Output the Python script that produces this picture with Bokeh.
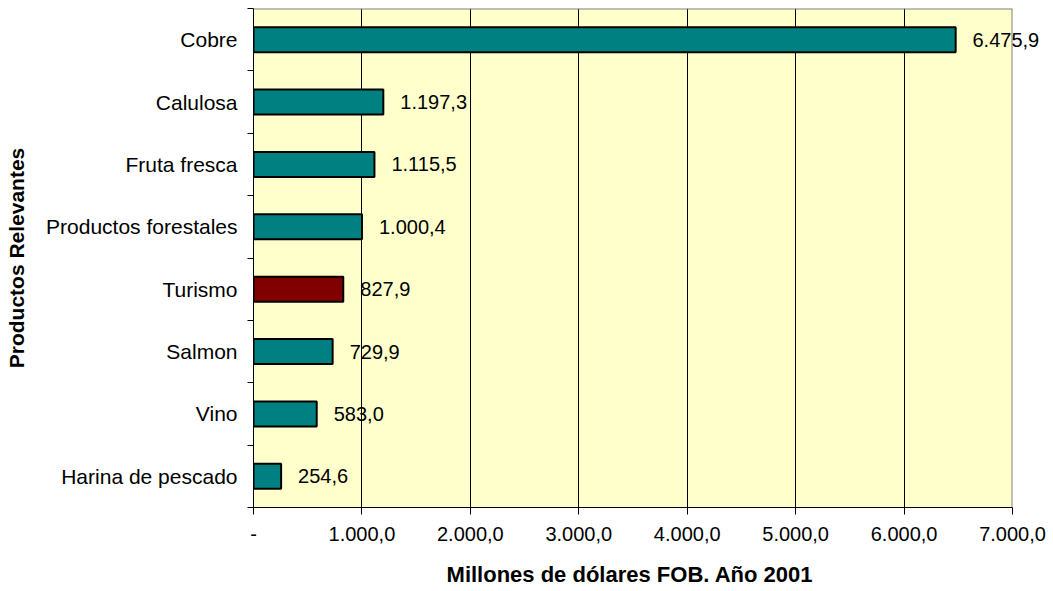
from bokeh.plotting import figure
from bokeh.models import ColumnDataSource, FixedTicker, Range1d, LabelSet, LinearAxis
from bokeh.core.properties import value
from bokeh.embed import file_html
from bokeh.resources import INLINE

# ---- data ----
categories = ["Cobre", "Calulosa", "Fruta fresca", "Productos forestales",
              "Turismo", "Salmon", "Vino", "Harina de pescado"]
values = [6475.9, 1197.3, 1115.5, 1000.4, 827.9, 729.9, 583.0, 254.6]
highlight = "Turismo"
x_ticks = [0, 1000, 2000, 3000, 4000, 5000, 6000, 7000]
x_title = "Millones de dólares  FOB. Año 2001"
y_title = "Productos Relevantes"

FONT = "Liberation Sans"
TEAL = "#008080"
DARKRED = "#800000"
PLOT_BG = "#FFFFCC"
BORDER = "#808080"


def es(v, d=1):
    s = f"{v:,.{d}f}"
    return s.replace(",", "X").replace(".", ",").replace("X", ".")


n = len(categories)
ypos = [n - i - 0.5 for i in range(n)]
colors = [DARKRED if c == highlight else TEAL for c in categories]
labels = [es(v) for v in values]
x_max = x_ticks[-1]

# layout (pixels)
W, H = 1053, 591
LEFT, TOP, RIGHT, BOTTOM = 253, 8, 41, 84
AREA_W = W - LEFT - RIGHT
LABEL_GAP = 17
LABEL_W = 68   # approx. width of a value label at 20px

# labels that stay inside the plot area are drawn as a LabelSet (clipped to the frame);
# labels that run past the right edge are drawn by a right-hand axis (not clipped)
inside = [i for i, v in enumerate(values) if v * AREA_W / x_max + LABEL_GAP + LABEL_W < AREA_W]
outside = [i for i in range(n) if i not in inside]

src = ColumnDataSource(dict(y=ypos, value=values, color=colors, label=labels, cat=categories))
src_in = ColumnDataSource(dict(y=[ypos[i] for i in inside],
                               value=[values[i] for i in inside],
                               label=[labels[i] for i in inside]))

p = figure(width=W, height=H,
           x_range=Range1d(x_ticks[0], x_max), y_range=Range1d(0, n),
           output_backend="svg", toolbar_location=None,
           min_border_left=LEFT, min_border_right=RIGHT,
           min_border_top=TOP, min_border_bottom=BOTTOM)

p.background_fill_color = PLOT_BG
p.border_fill_color = "white"
p.outline_line_color = None

# grey border on top and right of the plot area
p.line(x=[x_ticks[0], x_max], y=[n, n], line_color=BORDER, line_width=2)
p.line(x=[x_max, x_max], y=[0, n], line_color=BORDER, line_width=2)

p.hbar(y="y", left=0, right="value", height=0.4, fill_color="color",
       line_color="black", line_width=2, source=src)

p.add_layout(LabelSet(x="value", y="y", text="label", source=src_in, x_offset=LABEL_GAP,
                      text_baseline="middle", text_align="left",
                      text_font=value(FONT), text_font_size="20px", text_color="black"))

for i in outside:
    ra = LinearAxis(ticker=FixedTicker(ticks=[ypos[i]], minor_ticks=[]))
    ra.major_label_overrides = {ypos[i]: labels[i]}
    ra.major_label_standoff = int(round(values[i] * AREA_W / x_max + LABEL_GAP - AREA_W))
    ra.major_tick_out = 0
    ra.major_tick_in = 0
    ra.minor_tick_out = 0
    ra.minor_tick_in = 0
    ra.axis_line_color = None
    ra.major_tick_line_color = None
    ra.major_label_text_font = FONT
    ra.major_label_text_font_size = "20px"
    ra.major_label_text_color = "black"
    p.add_layout(ra, "right")

# x axis
xa = p.xaxis[0]
xa.ticker = FixedTicker(ticks=x_ticks, minor_ticks=[])
xa.major_label_overrides = {t: ("-" if t == 0 else es(t)) for t in x_ticks}
xa.major_tick_out = 7
xa.major_tick_in = 0
xa.minor_tick_out = 0
xa.minor_tick_in = 0
xa.major_label_standoff = 12
xa.major_label_text_font = FONT
xa.major_label_text_font_size = "20px"
xa.major_label_text_color = "black"
xa.axis_line_color = "black"
xa.major_tick_line_color = "black"
xa.axis_label = x_title
xa.axis_label_text_font = FONT
xa.axis_label_text_font_style = "bold"
xa.axis_label_text_font_size = "22px"
xa.axis_label_text_color = "black"
xa.axis_label_standoff = 18

# y axis: labels at category centres, ticks at category boundaries
ya = p.yaxis[0]
ya.ticker = FixedTicker(ticks=ypos, minor_ticks=list(range(n + 1)))
ya.major_label_overrides = {y: c for y, c in zip(ypos, categories)}
ya.major_tick_out = 0
ya.major_tick_in = 0
ya.minor_tick_out = 6
ya.minor_tick_in = 0
ya.minor_tick_line_color = "black"
ya.major_label_standoff = 10
ya.major_label_text_font = FONT
ya.major_label_text_font_size = "21px"
ya.major_label_text_color = "black"
ya.axis_line_color = "black"
ya.axis_label = y_title
ya.axis_label_text_font = FONT
ya.axis_label_text_font_style = "bold"
ya.axis_label_text_font_size = "21px"
ya.axis_label_text_color = "black"
ya.axis_label_standoff = 15

p.xgrid.ticker = FixedTicker(ticks=x_ticks[1:-1], minor_ticks=[])
p.xgrid.grid_line_color = "black"
p.xgrid.grid_line_width = 1
p.ygrid.grid_line_color = None

open("out.html", "w").write(file_html(p, INLINE))
